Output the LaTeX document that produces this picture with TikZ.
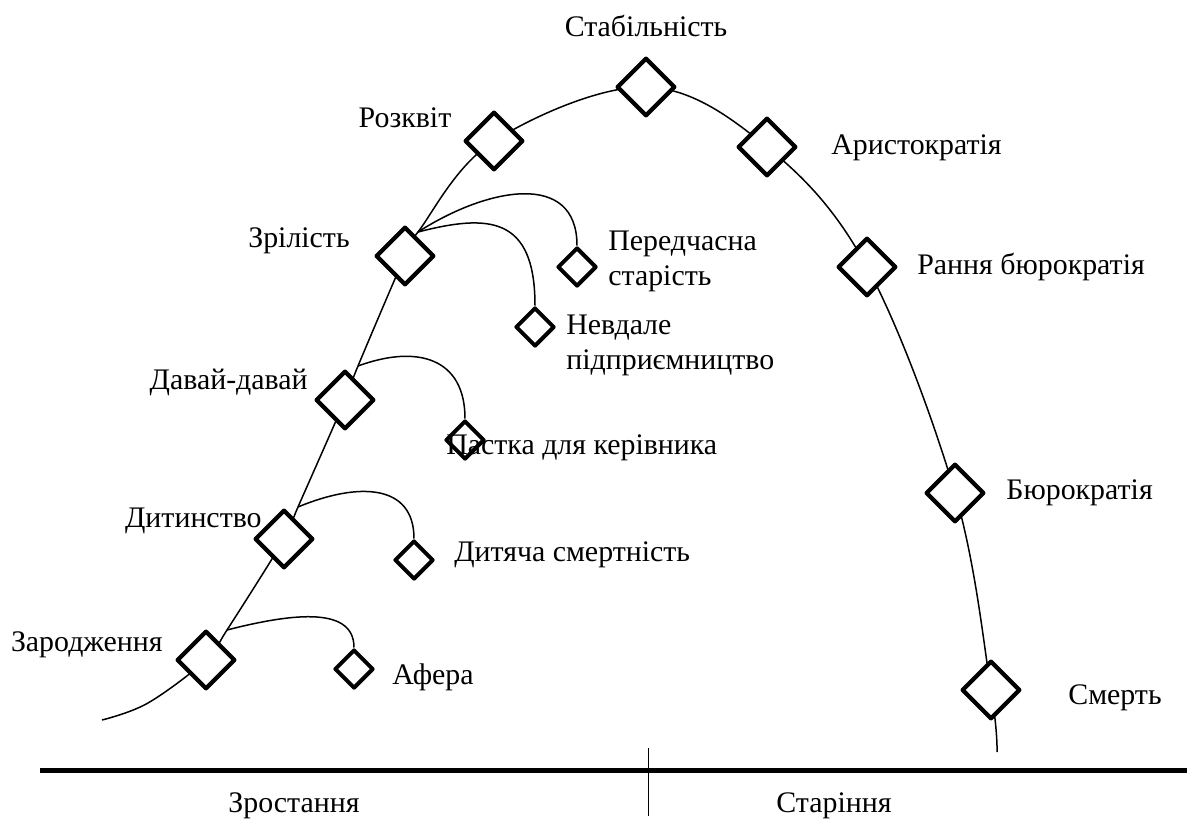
\documentclass[tikz,border=0pt]{standalone}
\usepackage{fontspec}
\setmainfont{Liberation Serif}
\usetikzlibrary{shapes.geometric, backgrounds}

\begin{document}
\begin{tikzpicture}[
    x=0.02cm, y=-0.02cm,
    stage/.style={draw, diamond, line width=0.085cm, line join=round, fill=white, inner sep=0pt, minimum size=1.17cm},
    trap/.style={draw, diamond, line width=0.08cm, line join=round, fill=white, inner sep=0pt, minimum size=0.78cm},
    lbl/.style={font=\fontsize{17}{20}\selectfont, inner sep=0pt, align=left},
    curve/.style={line width=0.03cm}
]
\useasboundingbox (0,0) rectangle (1187,828);

% stages of the life cycle
\node[stage] (zarodzh) at (206,660) {};
\node[stage] (dytynstvo) at (284,539) {};
\node[stage] (davai) at (345,400) {};
\node[stage] (zrilist) at (405,256) {};
\node[stage] (rozkvit) at (494,141) {};
\node[stage] (stabil) at (646,87) {};
\node[stage] (arystokr) at (767,147) {};
\node[stage] (rannia) at (867,267) {};
\node[stage] (biurokr) at (955,493) {};
\node[stage] (smert) at (991,690) {};

% traps
\node[trap] (afera) at (354,669) {};
\node[trap] (dytsmert) at (414,560) {};
\node[trap] (pastka) at (465,440) {};
\node[trap] (nevdale) at (535,327) {};
\node[trap] (peredch) at (577,267) {};

\coordinate (start) at (102,720);
\coordinate (startbend) at (148,703);
\coordinate (finish) at (997,752);
\coordinate (b1) at (227,630);
\coordinate (b2) at (298,507);
\coordinate (b3) at (358,366);
\coordinate (b4) at (418,232);

\begin{pgfonlayer}{background}
\draw[curve] plot[smooth, tension=0.6] coordinates {(start) (startbend) (zarodzh) (b1) (dytynstvo) (b2) (davai) (b3) (zrilist) (b4) (rozkvit) (stabil) (arystokr) (rannia) (biurokr) (smert) (finish)};
\draw[curve] (b1) .. controls +(70,-18) and +(0,-40) .. (afera.north);
\draw[curve] (b2) .. controls +(60,-25) and +(0,-55) .. (dytsmert.north);
\draw[curve] (b3) .. controls +(60,-22) and +(0,-60) .. (pastka.north);
\draw[curve] (b4) .. controls +(70,-45) and +(0,-75) .. (peredch.north);
\draw[curve] (b4) .. controls +(70,-18) and +(0,-90) .. (nevdale.north);
\end{pgfonlayer}

% labels
\node[lbl] (stabil-t) at (646,26) {Стабільність};
\node[lbl] (rozkvit-t) at (405,118) {Розквіт};
\node[lbl, anchor=west] (arystokr-t) at (831,148) {Аристократія};
\node[lbl, anchor=west] (rannia-t) at (917,267) {Рання бюрократія};
\node[lbl, anchor=west] (biurokr-t) at (1006,493) {Бюрократія};
\node[lbl, anchor=west] (smert-t) at (1068,698) {Смерть};
\node[lbl, anchor=east] (zrilist-t) at (350,241) {Зрілість};
\node[lbl, anchor=east] (davai-t) at (308,382) {Давай-давай};
\node[lbl, anchor=east] (dytynstvo-t) at (262,521) {Дитинство};
\node[lbl, anchor=east] (zarodzh-t) at (163,645) {Зародження};
\node[lbl, anchor=west] (afera-t) at (392,677) {Афера};
\node[lbl, anchor=west] (dytsmert-t) at (454,555) {Дитяча смертність};
\node[lbl, anchor=west] (pastka-t) at (446,448) {Пастка для керівника};
\node[lbl, anchor=west] (nevdale-t) at (566,345) {Невдале\\підприємництво};
\node[lbl, anchor=west] (peredch-t) at (608,261) {Передчасна\\старість};

% time axis
\coordinate (axl) at (40,770);
\coordinate (axr) at (1187,770);
\coordinate (divtop) at (648,748);
\coordinate (divbot) at (648,816);
\draw[line width=0.1cm] (axl) -- (axr);
\draw[line width=0.02cm] (divtop) -- (divbot);
\node[lbl] (zrost) at (294,806) {Зростання};
\node[lbl] (starin) at (834,806) {Старіння};
\end{tikzpicture}
\end{document}
